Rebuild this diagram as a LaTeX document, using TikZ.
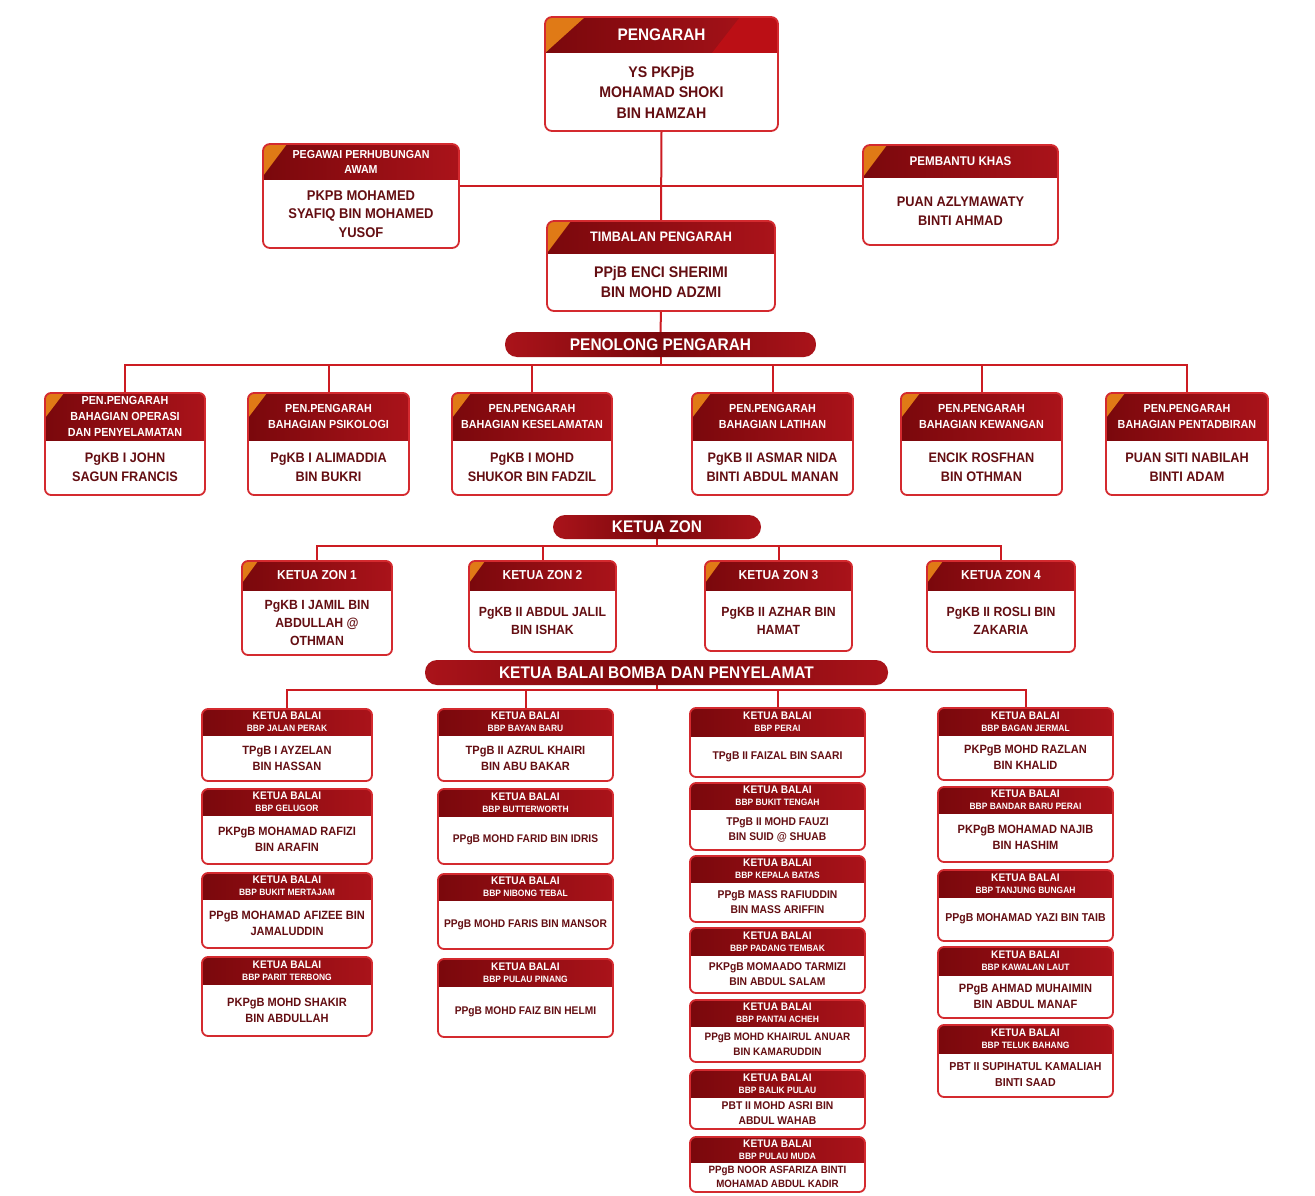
\documentclass[tikz,border=0pt]{standalone}
\usepackage{fontspec}
\setmainfont{Liberation Sans}[FakeStretch=0.92]
\usetikzlibrary{calc}
\definecolor{hdA}{HTML}{7A080C}
\definecolor{hdB}{HTML}{AA131A}
\definecolor{orC}{HTML}{E07A16}
\definecolor{bdC}{HTML}{D42A2F}
\definecolor{txC}{HTML}{640E12}
\definecolor{lnC}{HTML}{CC1C22}
\pgfdeclarelayer{bg}
\pgfsetlayers{bg,main}
\def\rc{7pt}\def\triw{0}\def\trih{0}
\def\hfs{12}\def\hls{14}\def\bfs{12}\def\bls{16}
\def\extra{}
\tikzset{
  boxnode/.style={draw=none, inner sep=0pt, outer sep=0pt, rectangle},
  hdrtxt/.style={text=white, align=center, inner sep=0pt, font=\bfseries\fontsize{\hfs}{\hls}\selectfont},
  bodytxt/.style={text=txC, align=center, inner sep=0pt, font=\bfseries\fontsize{\bfs}{\bls}\selectfont},
  pill/.style={rounded corners=12pt, left color=hdB, right color=hdB, middle color=hdA, inner sep=0pt, outer sep=0pt,
    text=white, font=\bfseries\fontsize{16.8}{18}\selectfont},
  conn/.style={draw=lnC, line width=2pt},
}
\newcommand\orgbox[8]{%
  \node[boxnode, minimum width={#4-#2}, minimum height={#5-#3}] (#1) at ({(#2+#4)/2},{(#3+#5)/2}) {};
  \begin{scope}
    \clip[rounded corners=\rc] (#1.north west) rectangle (#1.south east);
    \fill[left color=hdA, right color=hdB] (#2,#3) rectangle (#4,#6);
    \extra
    \ifnum\triw>0 \fill[orC] (#2,#3) -- ++(\triw,0) -- (#2,{#3+\trih}) -- cycle;\fi
  \end{scope}
  \draw[draw=bdC, line width=1.8pt, rounded corners=\rc] (#1.north west) rectangle (#1.south east);
  \node[hdrtxt] (#1h) at ({(#2+#4)/2},{(#3+#6)/2}) {#7};
  \node[bodytxt] (#1b) at ({(#2+#4)/2},{(#6+#5)/2}) {#8};
}
\newcommand\balh[1]{KETUA BALAI\\{\fontsize{9.2}{12}\selectfont #1}}
\begin{document}
\begin{tikzpicture}[x=1pt,y=-1pt]
\begin{pgfonlayer}{bg}
  \fill[white] (0,0) rectangle (1315,1196);
\end{pgfonlayer}
\useasboundingbox (0,0) rectangle (1315,1196);

% ---------- top ----------
\def\rc{7pt}\def\triw{40}\def\trih{36}
\def\hfs{16.7}\def\hls{20}\def\bfs{15.4}\def\bls{20.5}
\def\extra{\fill[hdB!80!red] (740,17) -- (778,17) -- (778,53) -- (712,53) -- cycle;}
\orgbox{P}{545}{17}{778}{131}{53}{PENGARAH}{YS PKPjB\\MOHAMAD SHOKI\\BIN HAMZAH}
\def\extra{}
\def\triw{24}\def\trih{32}
\def\hfs{11.6}\def\hls{15}\def\bfs{14.1}\def\bls{18.5}
\orgbox{Peg}{263}{144}{459}{248}{180}{PEGAWAI PERHUBUNGAN\\AWAM}{PKPB MOHAMED\\SYAFIQ BIN MOHAMED\\YUSOF}
\def\hfs{12.6}\def\bfs{13.9}\def\bls{19}
\orgbox{Pem}{863}{145}{1058}{245}{178}{PEMBANTU KHAS}{PUAN AZLYMAWATY\\BINTI AHMAD}
\def\hfs{13.75}\def\bfs{15.4}\def\bls{20}
\orgbox{T}{547}{221}{775}{311}{253}{TIMBALAN PENGARAH}{PPjB ENCI SHERIMI\\BIN MOHD ADZMI}

\node[pill, minimum width=311pt, minimum height=25pt] (pPen) at (660.5,344.5) {PENOLONG PENGARAH};

% ---------- pen.pengarah ----------
\def\rc{6pt}\def\triw{19}\def\trih{25}
\def\hfs{11.7}\def\hls{15.7}\def\bfs{13.8}\def\bls{19}
\orgbox{pen1}{45}{393}{205}{495}{440}{PEN.PENGARAH\\BAHAGIAN OPERASI\\DAN PENYELAMATAN}{PgKB I JOHN\\SAGUN FRANCIS}
\orgbox{pen2}{248}{393}{409}{495}{440}{PEN.PENGARAH\\BAHAGIAN PSIKOLOGI}{PgKB I ALIMADDIA\\BIN BUKRI}
\orgbox{pen3}{452}{393}{612}{495}{440}{PEN.PENGARAH\\BAHAGIAN KESELAMATAN}{PgKB I MOHD\\SHUKOR BIN FADZIL}
\orgbox{pen4}{692}{393}{853}{495}{440}{PEN.PENGARAH\\BAHAGIAN LATIHAN}{PgKB II ASMAR NIDA\\BINTI ABDUL MANAN}
\orgbox{pen5}{901}{393}{1062}{495}{440}{PEN.PENGARAH\\BAHAGIAN KEWANGAN}{ENCIK ROSFHAN\\BIN OTHMAN}
\orgbox{pen6}{1106}{393}{1268}{495}{440}{PEN.PENGARAH\\BAHAGIAN PENTADBIRAN}{PUAN SITI NABILAH\\BINTI ADAM}

\node[pill, minimum width=208pt, minimum height=24pt] (pZon) at (657,527) {KETUA ZON};

% ---------- zon ----------
\def\triw{16}\def\trih{22}
\def\hfs{13}\def\hls{15}\def\bfs{13.3}\def\bls{18}
\orgbox{zon1}{242}{561}{392}{655}{590}{KETUA ZON 1}{PgKB I JAMIL BIN\\ABDULLAH @\\OTHMAN}
\orgbox{zon2}{469}{561}{616}{652}{590}{KETUA ZON 2}{PgKB II ABDUL JALIL\\BIN ISHAK}
\orgbox{zon3}{705}{561}{852}{651}{590}{KETUA ZON 3}{PgKB II AZHAR BIN\\HAMAT}
\orgbox{zon4}{927}{561}{1075}{652}{590}{KETUA ZON 4}{PgKB II ROSLI BIN\\ZAKARIA}

\node[pill, minimum width=463pt, minimum height=25pt] (pBal) at (656.5,672.5) {KETUA BALAI BOMBA DAN PENYELAMAT};

% ---------- balai ----------
\def\triw{0}
\def\hfs{11}\def\hls{12}\def\bfs{12}\def\bls{16}
% col 1
\orgbox{a1}{202}{709}{372}{781}{735}{\balh{BBP JALAN PERAK}}{TPgB I AYZELAN\\BIN HASSAN}
\orgbox{a2}{202}{789}{372}{864}{815}{\balh{BBP GELUGOR}}{PKPgB MOHAMAD RAFIZI\\BIN ARAFIN}
\orgbox{a3}{202}{873}{372}{948}{899}{\balh{BBP BUKIT MERTAJAM}}{PPgB MOHAMAD AFIZEE BIN\\JAMALUDDIN}
\orgbox{a4}{202}{957}{372}{1036}{984}{\balh{BBP PARIT TERBONG}}{PKPgB MOHD SHAKIR\\BIN ABDULLAH}
% col 2
\orgbox{b1}{438}{709}{613}{781}{735}{\balh{BBP BAYAN BARU}}{TPgB II AZRUL KHAIRI\\BIN ABU BAKAR}
\def\bfs{11.1}
\orgbox{b2}{438}{789}{613}{864}{816}{\balh{BBP BUTTERWORTH}}{PPgB MOHD FARID BIN IDRIS}
\orgbox{b3}{438}{874}{613}{949}{900}{\balh{BBP NIBONG TEBAL}}{PPgB MOHD FARIS BIN MANSOR}
\orgbox{b4}{438}{959}{613}{1037}{986}{\balh{BBP PULAU PINANG}}{PPgB MOHD FAIZ BIN HELMI}
% col 4
\def\bfs{12}
\orgbox{d1}{938}{708}{1113}{780}{735}{\balh{BBP BAGAN JERMAL}}{PKPgB MOHD RAZLAN\\BIN KHALID}
\orgbox{d2}{938}{787}{1113}{862}{813}{\balh{BBP BANDAR BARU PERAI}}{PKPgB MOHAMAD NAJIB\\BIN HASHIM}
\def\bfs{11.4}
\orgbox{d3}{938}{870}{1113}{941}{897}{\balh{BBP TANJUNG BUNGAH}}{PPgB MOHAMAD YAZI BIN TAIB}
\def\bfs{12}
\orgbox{d4}{938}{947}{1113}{1018}{975}{\balh{BBP KAWALAN LAUT}}{PPgB AHMAD MUHAIMIN\\BIN ABDUL MANAF}
\def\bfs{11.5}
\orgbox{d5}{938}{1025}{1113}{1097}{1053}{\balh{BBP TELUK BAHANG}}{PBT II SUPIHATUL KAMALIAH\\BINTI SAAD}
% col 3
\def\bfs{11.2}\def\bls{15}
\orgbox{c1}{690}{708}{865}{777}{736}{\balh{BBP PERAI}}{TPgB II FAIZAL BIN SAARI}
\orgbox{c2}{690}{783}{865}{850}{809}{\balh{BBP BUKIT TENGAH}}{TPgB II MOHD FAUZI\\BIN SUID @ SHUAB}
\orgbox{c3}{690}{856}{865}{922}{882}{\balh{BBP KEPALA BATAS}}{PPgB MASS RAFIUDDIN\\BIN MASS ARIFFIN}
\orgbox{c4}{690}{928}{865}{993}{955}{\balh{BBP PADANG TEMBAK}}{PKPgB MOMAADO TARMIZI\\BIN ABDUL SALAM}
\def\bfs{10.8}
\orgbox{c5}{690}{1000}{865}{1062}{1026}{\balh{BBP PANTAI ACHEH}}{PPgB MOHD KHAIRUL ANUAR\\BIN KAMARUDDIN}
\def\bfs{11.2}
\orgbox{c6}{690}{1070}{865}{1129}{1097}{\balh{BBP BALIK PULAU}}{PBT II MOHD ASRI BIN\\ABDUL WAHAB}
\def\bfs{10.6}\def\bls{14.5}
\orgbox{c7}{690}{1137}{865}{1192}{1162}{\balh{BBP PULAU MUDA}}{PPgB NOOR ASFARIZA BINTI\\MOHAMAD ABDUL KADIR}

% ---------- connectors ----------
\begin{pgfonlayer}{bg}
  \coordinate (j1) at (660,186);
  \coordinate (j2) at (660,365);
  \coordinate (j3) at (657,546);
  \coordinate (j4) at (656,690);
  \draw[conn] (P.south) -- (T.north);
  \draw[conn] (Peg.east |- j1) -- (Pem.west |- j1);
  \draw[conn] (T.south) -- (pPen.north);
  \draw[conn] (pPen.south) -- (pPen.south |- j2);
  \draw[conn] (pen1.north) -- (pen1.north |- j2) -- (pen6.north |- j2) -- (pen6.north);
  \foreach \n in {pen2,pen3,pen4,pen5} \draw[conn] (\n.north) -- (\n.north |- j2);
  \draw[conn] (pZon.south) -- (pZon.south |- j3);
  \draw[conn] (zon1.north) -- (zon1.north |- j3) -- (zon4.north |- j3) -- (zon4.north);
  \foreach \n in {zon2,zon3} \draw[conn] (\n.north) -- (\n.north |- j3);
  \draw[conn] (pBal.south) -- (pBal.south |- j4);
  \draw[conn] (a1.north) -- (a1.north |- j4) -- (d1.north |- j4) -- (d1.north);
  \foreach \n in {b1,c1} \draw[conn] (\n.north) -- (\n.north |- j4);
\end{pgfonlayer}
\end{tikzpicture}
\end{document}
